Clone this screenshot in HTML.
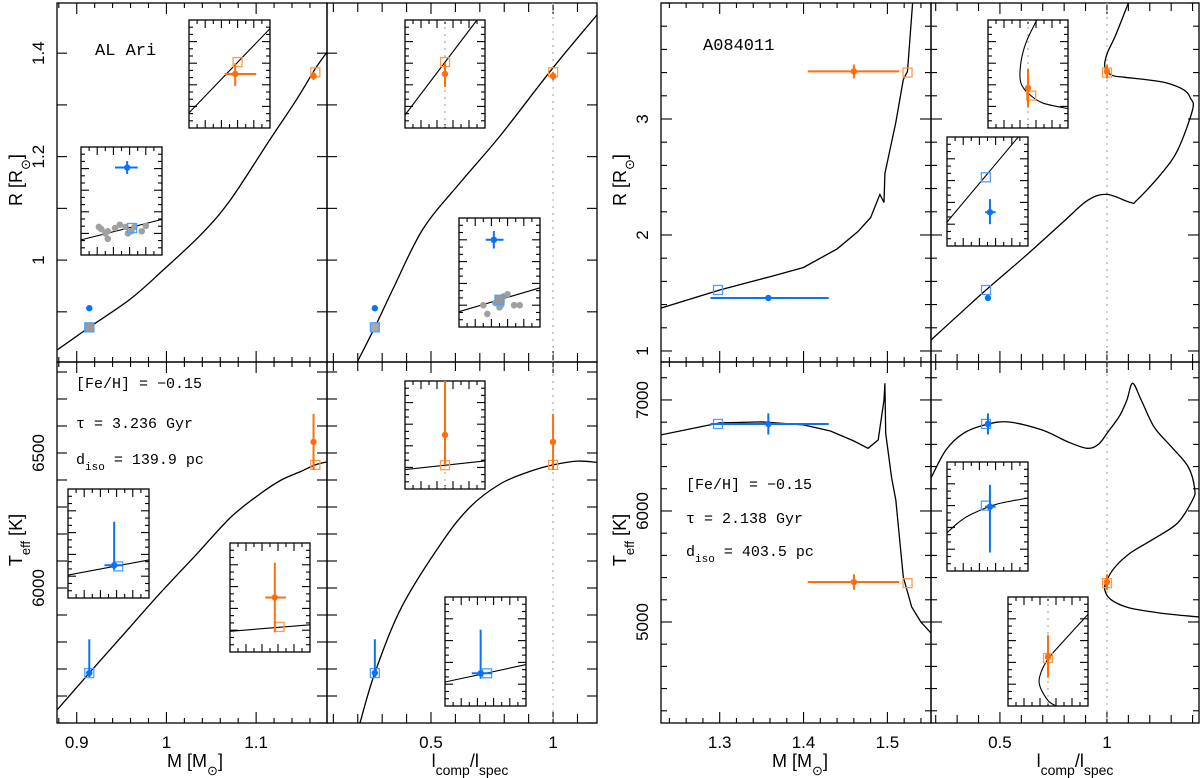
<!DOCTYPE html>
<html><head><meta charset="utf-8"><style>
html,body{margin:0;padding:0;background:#fff}
svg{display:block}
text{font-family:"Liberation Sans",sans-serif;fill:#000}
.mono{font-family:"Liberation Mono",monospace}
</style></head><body>
<svg id="fig" width="1200" height="778" viewBox="0 0 1200 778"></svg>
<script>
// ===== Data =====
// AL Ari isochrone
const alMass=[0.878,0.914,0.96,0.999,1.04,1.072,1.115,1.145,1.166,1.179];
const alRad=[0.826,0.87,0.925,0.985,1.052,1.118,1.232,1.31,1.37,1.402];
const alMassT=[0.878,0.914,0.95,0.993,1.035,1.072,1.105,1.128,1.15,1.166,1.179];
const alTeff=[5548,5685,5820,5981,6130,6263,6350,6400,6432,6456,6467];
const alLumR=[0.2,0.27,0.35,0.467,0.62,0.783,1.0,1.18];
const alRadL=[0.805,0.87,0.95,1.06,1.15,1.24,1.372,1.474];
const alLumT=[0.209,0.27,0.38,0.545,0.66,0.783,0.9,1.0,1.1,1.18];
const alTeffL=[5500,5685,5930,6170,6300,6385,6430,6456,6470,6465];
// AL Ari stars: [primary(orange), secondary(blue)]
const alObsM=[1.164,0.914], alObsMerr=[0.003,0.002];
const alObsR=[1.356,0.907], alObsRerr=[0.008,0.004];
const alObsT=[6541,5685], alObsTup=[104,125], alObsTdn=[104,15];
const alObsL=[1.0,0.27];
const alModM=[1.166,0.914], alModR=[1.363,0.87], alModT=[6456,5685];
// A084011 isochrone
const aMass=[1.230,1.30,1.36,1.40,1.44,1.465,1.48,1.491,1.496,1.497,1.51,1.519,1.524,1.530];
const aRad=[1.37,1.526,1.64,1.72,1.88,2.03,2.15,2.35,2.28,2.53,2.97,3.34,3.41,4.0];
const aMassT=[1.230,1.30,1.35,1.40,1.432,1.46,1.477,1.489,1.496,1.497,1.498,1.505,1.51,1.519,1.529,1.54,1.552];
const aTeff=[6685,6793,6802,6775,6720,6630,6565,6640,7000,7150,6700,6300,6100,5405,5135,5000,4900];
const aLumR=[0.178,0.30,0.435,0.626,0.80,0.911,1.0,1.11,1.14,1.25,1.33,1.40,1.39,1.36,1.28,1.18,1.08,1.02,0.99,1.00,1.04,1.1];
const aRadL=[1.095,1.30,1.526,1.83,2.12,2.30,2.35,2.28,2.30,2.52,2.73,3.08,3.18,3.25,3.31,3.34,3.36,3.38,3.45,3.56,3.72,4.0];
const aLumT=[0.178,0.248,0.33,0.43,0.537,0.696,0.82,0.907,0.96,1.005,1.06,1.093,1.12,1.16,1.22,1.30,1.38,1.41,1.40,1.33,1.22,1.11,1.04,1.0,0.99,1.02,1.10,1.25,1.43];
const aTeffL=[6297,6550,6700,6775,6802,6730,6620,6565,6600,6712,6860,7000,7150,7000,6757,6580,6396,6200,6100,5892,5750,5622,5500,5378,5288,5200,5130,5080,5045];
const aObsM=[1.460,1.358], aObsMlo=[1.405,1.289], aObsMhi=[1.514,1.430];
const aObsR=[3.41,1.457], aObsRerr=[0.06,0.02];
const aObsT=[5360,6784], aObsTerr=[70,95];
const aObsL=[1.0,0.444];
const aModM=[1.524,1.298], aModR=[3.40,1.526], aModT=[5350,6784], aModL=[1.0,0.435];
// Insets (normalised inset coordinates u,v in [0,1])
const in1LineU=[0,1], in1LineV=[0.14,0.92];
const in2LineU=[0,1], in2LineV=[0.14,0.33];
const in2GrayU=[0.22,0.25,0.3,0.33,0.42,0.48,0.55,0.58,0.62,0.66,0.75,0.8,0.33];
const in2GrayV=[0.26,0.24,0.2,0.22,0.25,0.28,0.26,0.2,0.22,0.26,0.22,0.27,0.15];
const in4GrayU=[0.3,0.35,0.45,0.5,0.52,0.55,0.6,0.68,0.75,0.5];
const in4GrayV=[0.2,0.12,0.22,0.25,0.2,0.28,0.3,0.2,0.2,0.18];
const trCurveU=[0.61,0.48,0.41,0.41,0.52,0.69,1.0];
const trCurveV=[1.0,0.8,0.6,0.42,0.31,0.23,0.18];
const brCurveU=[0,0.15,0.3,0.6,1];
const brCurveV=[0.35,0.45,0.52,0.61,0.67];
const br2CurveU=[1,0.7,0.5,0.4,0.4,0.5,0.6];
const br2CurveV=[0.84,0.6,0.43,0.28,0.18,0.05,0];

// ===== Drawing =====
const NS="http://www.w3.org/2000/svg";
const svg=document.getElementById('fig');
const ORANGE="#ff6e0a", BLUE="#0a72f5", LORANGE="#ff9a4a", LBLUE="#4aa0ff";
function el(tag,attrs,parent){const e=document.createElementNS(NS,tag);for(const k in attrs)e.setAttribute(k,attrs[k]);(parent||svg).appendChild(e);return e;}
function scale(d0,d1,p0,p1){return v=>p0+(v-d0)/(d1-d0)*(p1-p0);}
function polyline(xs,ys,sx,sy,attrs){
  const pts=xs.map((x,i)=>sx(x).toFixed(1)+","+sy(ys[i]).toFixed(1)).join(" ");
  return el('polyline',Object.assign({points:pts,fill:'none'},attrs));
}
function smooth(xs,ys,sx,sy,attrs){
  const P=xs.map((x,i)=>[sx(x),sy(ys[i])]);
  let d="M"+P[0][0].toFixed(1)+","+P[0][1].toFixed(1);
  for(let i=0;i<P.length-1;i++){
    const p0=P[Math.max(0,i-1)],p1=P[i],p2=P[i+1],p3=P[Math.min(P.length-1,i+2)];
    const c1=[p1[0]+(p2[0]-p0[0])/6,p1[1]+(p2[1]-p0[1])/6];
    const c2=[p2[0]-(p3[0]-p1[0])/6,p2[1]-(p3[1]-p1[1])/6];
    d+=` C${c1[0].toFixed(1)},${c1[1].toFixed(1)} ${c2[0].toFixed(1)},${c2[1].toFixed(1)} ${p2[0].toFixed(1)},${p2[1].toFixed(1)}`;
  }
  return el('path',Object.assign({d:d,fill:'none'},attrs));
}
function frame(x0,y0,x1,y1,xt,yt,name){
  const g=el('g',{});
  
  
  el('rect',{x:x0,y:y0,width:x1-x0,height:y1-y0,fill:'none',stroke:'#000','stroke-width':1.3},g);
  xt.forEach(t=>{el('line',{x1:t[0],y1:y1,x2:t[0],y2:y1-t[1],stroke:'#000','stroke-width':1.1},g);el('line',{x1:t[0],y1:y0,x2:t[0],y2:y0+t[1],stroke:'#000','stroke-width':1.1},g);});
  yt.forEach(t=>{el('line',{x1:x0,y1:t[0],x2:x0+t[1],y2:t[0],stroke:'#000','stroke-width':1.1},g);el('line',{x1:x1,y1:t[0],x2:x1-t[1],y2:t[0],stroke:'#000','stroke-width':1.1},g);});
  return g;
}
function ticks(d0,d1,step,major,sc,lenMaj,lenMin){
  const out=[];const n0=Math.ceil(d0/step-1e-6),n1=Math.floor(d1/step+1e-6);
  for(let n=n0;n<=n1;n++){const v=n*step;const m=Math.abs(v/major-Math.round(v/major))<1e-6;out.push([sc(v),m?lenMaj:lenMin]);}
  return out;
}
function errpt(sx,sy,x,y,xlo,xhi,ylo,yhi,color,name){
  const g=el('g',{});
  
  
  el('line',{x1:sx(xlo),y1:sy(y),x2:sx(xhi),y2:sy(y),stroke:color,'stroke-width':2},g);
  el('line',{x1:sx(x),y1:sy(ylo),x2:sx(x),y2:sy(yhi),stroke:color,'stroke-width':2},g);
  el('circle',{cx:sx(x),cy:sy(y),r:3.2,fill:color},g);
}
function sq(sx,sy,x,y,color,name,fill){
  const e=el('rect',{x:sx(x)-4.5,y:sy(y)-4.5,width:9,height:9,fill:fill||'none',stroke:color,'stroke-width':1.3});
  
  
}
function vdot(sx,y0,y1,v,name){
  const e=el('line',{x1:sx(v),y1:y0,x2:sx(v),y2:y1,stroke:'#aaa','stroke-width':1.2,'stroke-dasharray':'2,5'});
  
  
}
function text(x,y,s,attrs,name){
  const e=el('text',Object.assign({x:x,y:y},attrs||{}));e.innerHTML=s;
  
  
  return e;
}
function ytext(x,y,s,name,size){
  return text(x,y,s,{transform:`rotate(-90 ${x} ${y})`,'text-anchor':'middle','font-size':size||17},name);
}
function inset(x0,y0,x1,y1,name){
  const xt=[],yt=[];
  for(let i=1;i<10;i++)xt.push([x0+(x1-x0)*i/10,i%2==0?8:4]);
  for(let i=1;i<15;i++)yt.push([y0+(y1-y0)*i/15,i%3==0?8:4]);
  el('rect',{x:x0,y:y0,width:x1-x0,height:y1-y0,fill:'#fff'});
  frame(x0,y0,x1,y1,xt,yt,name);
  return {su:scale(0,1,x0,x1),sv:scale(0,1,y1,y0)};
}
const LS={stroke:'#000','stroke-width':1.3,'clip-path':'url(#c0)'};

const cpath=el('clipPath',{id:'c0'});
el('rect',{x:57,y:3,width:540,height:720},cpath);
el('rect',{x:661,y:3,width:538,height:720},cpath);

// ---------- Left figure ----------
const LX0=57,LX1=327,LX2=597,Y0=3,YM=362,Y1=723;
const sxM=scale(0.878,1.179,LX0,LX1), syR=scale(0.803,1.497,YM,Y0);
const sxL=scale(0.074,1.18,LX1,LX2), syT=scale(5500,6837,Y1,YM);
frame(LX0,Y0,LX1,YM,ticks(0.878,1.179,0.02,0.1,sxM,11,5),ticks(0.803,1.497,0.1,0.1,syR,10,5),'al-ari-radius-mass-panel');
frame(LX1,Y0,LX2,YM,ticks(0.074,1.18,0.1,0.5,sxL,11,9),ticks(0.803,1.497,0.1,0.1,syR,10,5),'al-ari-radius-lum-panel');
frame(LX0,YM,LX1,Y1,ticks(0.878,1.179,0.02,0.1,sxM,11,5),ticks(5500,6837,100,100,syT,10,5),'al-ari-teff-mass-panel');
frame(LX1,YM,LX2,Y1,ticks(0.074,1.18,0.1,0.5,sxL,11,9),ticks(5500,6837,100,100,syT,10,5),'al-ari-teff-lum-panel');
vdot(sxL,Y0,Y1,1.0,'al-ari-unity-line');
let c;
c=smooth(alMass,alRad,sxM,syR,LS);


c=smooth(alLumR,alRadL,sxL,syR,LS);


c=smooth(alMassT,alTeff,sxM,syT,LS);


c=smooth(alLumT,alTeffL,sxL,syT,LS);


const cols=[ORANGE,BLUE],lcols=[LORANGE,LBLUE],nm=['primary','secondary'];
for(let i=0;i<2;i++){
  sq(sxM,syR,alModM[i],alModR[i],lcols[i],'al-ari-model-rm-'+nm[i],i==1?'#999':'none');
  errpt(sxM,syR,alObsM[i],alObsR[i],alObsM[i]-alObsMerr[i],alObsM[i]+alObsMerr[i],alObsR[i]-alObsRerr[i],alObsR[i]+alObsRerr[i],cols[i],'al-ari-obs-rm-'+nm[i]);
  sq(sxL,syR,alObsL[i],alModR[i],lcols[i],'al-ari-model-rl-'+nm[i],i==1?'#aaa':'none');
  errpt(sxL,syR,alObsL[i],alObsR[i],alObsL[i],alObsL[i],alObsR[i]-alObsRerr[i],alObsR[i]+alObsRerr[i],cols[i],'al-ari-obs-rl-'+nm[i]);
  sq(sxM,syT,alModM[i],alModT[i],lcols[i],'al-ari-model-tm-'+nm[i]);
  errpt(sxM,syT,alObsM[i],alObsT[i],alObsM[i]-alObsMerr[i],alObsM[i]+alObsMerr[i],alObsT[i]-alObsTdn[i],alObsT[i]+alObsTup[i],cols[i],'al-ari-obs-tm-'+nm[i]);
  sq(sxL,syT,alObsL[i],alModT[i],lcols[i],'al-ari-model-tl-'+nm[i]);
  errpt(sxL,syT,alObsL[i],alObsT[i],alObsL[i],alObsL[i],alObsT[i]-alObsTdn[i],alObsT[i]+alObsTup[i],cols[i],'al-ari-obs-tl-'+nm[i]);
}
let s;
s=inset(189,20,270,128,'inset-rm-primary');
polyline(in1LineU,in1LineV,s.su,s.sv,{stroke:'#000','stroke-width':1.1});
sq(s.su,s.sv,0.60,0.61,LORANGE,'inset-model-square');
errpt(s.su,s.sv,0.57,0.5,0.44,0.83,0.39,0.6,ORANGE,'inset-obs-point');
s=inset(81,147,162,255,'inset-rm-secondary');
polyline(in2LineU,in2LineV,s.su,s.sv,{stroke:'#000','stroke-width':1.1});
in2GrayU.forEach((u,i)=>{const e=el('circle',{cx:s.su(u),cy:s.sv(in2GrayV[i]),r:3.3,fill:'#a0a0a0'});});
sq(s.su,s.sv,0.63,0.25,LBLUE,'inset-model-square');
errpt(s.su,s.sv,0.57,0.81,0.42,0.70,0.75,0.87,BLUE,'inset-obs-point');
s=inset(405,20,485,128,'inset-rl-primary');
vdot(s.su,20,128,0.5,'inset-unity-line');
polyline([0,0.9],[0.12,1.0],s.su,s.sv,{stroke:'#000','stroke-width':1.1});
sq(s.su,s.sv,0.5,0.61,LORANGE,'inset-model-square');
errpt(s.su,s.sv,0.5,0.5,0.5,0.5,0.38,0.6,ORANGE,'inset-obs-point');
s=inset(459,218,540,327,'inset-rl-secondary');
polyline([0,1],[0.14,0.36],s.su,s.sv,{stroke:'#000','stroke-width':1.1});
in4GrayU.forEach((u,i)=>{const e=el('circle',{cx:s.su(u),cy:s.sv(in4GrayV[i]),r:3.3,fill:'#a0a0a0'});});
sq(s.su,s.sv,0.5,0.25,LBLUE,'inset-model-square','#999');
errpt(s.su,s.sv,0.43,0.80,0.33,0.55,0.72,0.88,BLUE,'inset-obs-point');
s=inset(68,489,149,598,'inset-tm-secondary');
polyline([0,1],[0.21,0.35],s.su,s.sv,{stroke:'#000','stroke-width':1.1});
sq(s.su,s.sv,0.62,0.29,LBLUE,'inset-model-square');
errpt(s.su,s.sv,0.57,0.30,0.45,0.68,0.26,0.70,BLUE,'inset-obs-point');
s=inset(230,543,310,652,'inset-tm-primary');
polyline([0,1],[0.19,0.25],s.su,s.sv,{stroke:'#000','stroke-width':1.1});
sq(s.su,s.sv,0.62,0.23,LORANGE,'inset-model-square');
errpt(s.su,s.sv,0.56,0.5,0.44,0.70,0.18,0.82,ORANGE,'inset-obs-point');
s=inset(405,381,485,489,'inset-tl-primary');
vdot(s.su,381,489,0.5,'inset-unity-line');
polyline([0,1],[0.18,0.26],s.su,s.sv,{stroke:'#000','stroke-width':1.1});
sq(s.su,s.sv,0.5,0.22,LORANGE,'inset-model-square');
errpt(s.su,s.sv,0.5,0.5,0.5,0.5,0.22,1.0,ORANGE,'inset-obs-point');
s=inset(445,597,526,706,'inset-tl-secondary');
polyline([0,1],[0.22,0.38],s.su,s.sv,{stroke:'#000','stroke-width':1.1});
sq(s.su,s.sv,0.52,0.30,LBLUE,'inset-model-square');
errpt(s.su,s.sv,0.44,0.30,0.33,0.58,0.25,0.70,BLUE,'inset-obs-point');

// ---------- Right figure ----------
const RX0=661,RX1=931,RX2=1199;
const sxM2=scale(1.230,1.552,RX0,RX1), syR2=scale(0.905,4.0,YM,Y0);
const sxL2=scale(0.178,1.43,RX1,RX2), syT2=scale(4090,7342,Y1,YM);
frame(RX0,Y0,RX1,YM,ticks(1.230,1.552,0.02,0.1,sxM2,11,5),ticks(0.905,4.0,0.2,1,syR2,11,6),'a084011-radius-mass-panel');
frame(RX1,Y0,RX2,YM,ticks(0.178,1.43,0.1,0.5,sxL2,11,8),ticks(0.905,4.0,0.2,1,syR2,11,6),'a084011-radius-lum-panel');
frame(RX0,YM,RX1,Y1,ticks(1.230,1.552,0.02,0.1,sxM2,11,5),ticks(4090,7342,200,1000,syT2,11,6),'a084011-teff-mass-panel');
frame(RX1,YM,RX2,Y1,ticks(0.178,1.43,0.1,0.5,sxL2,11,8),ticks(4090,7342,200,1000,syT2,11,6),'a084011-teff-lum-panel');
vdot(sxL2,Y0,Y1,1.0,'a084011-unity-line');
c=polyline(aMass,aRad,sxM2,syR2,LS);


c=smooth(aLumR,aRadL,sxL2,syR2,LS);


c=polyline(aMassT,aTeff,sxM2,syT2,LS);


c=smooth(aLumT,aTeffL,sxL2,syT2,LS);


for(let i=0;i<2;i++){
  sq(sxM2,syR2,aModM[i],aModR[i],lcols[i],'a084011-model-rm-'+nm[i]);
  errpt(sxM2,syR2,aObsM[i],aObsR[i],aObsMlo[i],aObsMhi[i],aObsR[i]-aObsRerr[i],aObsR[i]+aObsRerr[i],cols[i],'a084011-obs-rm-'+nm[i]);
  sq(sxL2,syR2,aModL[i],aModR[i],lcols[i],'a084011-model-rl-'+nm[i]);
  errpt(sxL2,syR2,aObsL[i],aObsR[i],aObsL[i],aObsL[i],aObsR[i]-aObsRerr[i],aObsR[i]+aObsRerr[i],cols[i],'a084011-obs-rl-'+nm[i]);
  sq(sxM2,syT2,aModM[i],aModT[i],lcols[i],'a084011-model-tm-'+nm[i]);
  errpt(sxM2,syT2,aObsM[i],aObsT[i],aObsMlo[i],aObsMhi[i],aObsT[i]-aObsTerr[i],aObsT[i]+aObsTerr[i],cols[i],'a084011-obs-tm-'+nm[i]);
  sq(sxL2,syT2,aModL[i],aModT[i],lcols[i],'a084011-model-tl-'+nm[i]);
  errpt(sxL2,syT2,aObsL[i],aObsT[i],aObsL[i],aObsL[i],aObsT[i]-aObsTerr[i],aObsT[i]+aObsTerr[i],cols[i],'a084011-obs-tl-'+nm[i]);
}
s=inset(988,20,1068,128,'inset-a-rl-primary');
vdot(s.su,20,128,0.5,'inset-unity-line');
smooth(trCurveU,trCurveV,s.su,s.sv,{stroke:'#000','stroke-width':1.1});
sq(s.su,s.sv,0.54,0.30,LORANGE,'inset-model-square');
errpt(s.su,s.sv,0.5,0.37,0.5,0.5,0.19,0.55,ORANGE,'inset-obs-point');
s=inset(947,137,1028,246,'inset-a-rl-secondary');
polyline([0,0.88],[0.22,1.0],s.su,s.sv,{stroke:'#000','stroke-width':1.1});
sq(s.su,s.sv,0.48,0.63,LBLUE,'inset-model-square');
errpt(s.su,s.sv,0.53,0.31,0.47,0.6,0.2,0.43,BLUE,'inset-obs-point');
s=inset(947,462,1028,571,'inset-a-tl-secondary');
smooth(brCurveU,brCurveV,s.su,s.sv,{stroke:'#000','stroke-width':1.1});
sq(s.su,s.sv,0.48,0.60,LBLUE,'inset-model-square');
errpt(s.su,s.sv,0.53,0.59,0.47,0.6,0.17,0.79,BLUE,'inset-obs-point');
s=inset(1008,597,1088,706,'inset-a-tl-primary');
vdot(s.su,597,706,0.5,'inset-unity-line');
smooth(br2CurveU,br2CurveV,s.su,s.sv,{stroke:'#000','stroke-width':1.1});
sq(s.su,s.sv,0.5,0.44,LORANGE,'inset-model-square');
errpt(s.su,s.sv,0.5,0.45,0.5,0.5,0.26,0.65,ORANGE,'inset-obs-point');

// ---------- Tick labels ----------
const lmLabels=[0.9,1,1.1], llLabels=[0.5,1], rmLabels=[1.3,1.4,1.5], rlLabels=[0.5,1];
const lrLabels=[1.4,1.2,1], ltLabels=[6500,6000], rrLabels=[3,2,1], rtLabels=[7000,6000,5000];
lmLabels.forEach(v=>text(sxM(v),748,String(v),{'text-anchor':'middle','font-size':17},'x-tick-label'));
llLabels.forEach(v=>text(sxL(v),748,String(v),{'text-anchor':'middle','font-size':17},'x-tick-label'));
rmLabels.forEach(v=>text(sxM2(v),748,String(v),{'text-anchor':'middle','font-size':17},'x-tick-label'));
rlLabels.forEach(v=>text(sxL2(v),748,String(v),{'text-anchor':'middle','font-size':17},'x-tick-label'));
lrLabels.forEach(v=>ytext(44,syR(v),String(v),'y-tick-label'));
ltLabels.forEach(v=>ytext(44,syT(v),String(v),'y-tick-label'));
rrLabels.forEach(v=>ytext(648,syR2(v),String(v),'y-tick-label'));
rtLabels.forEach(v=>ytext(648,syT2(v),String(v),'y-tick-label'));

// ---------- Axis titles ----------
ytext(22,180,'R [R<tspan baseline-shift="sub" font-size="13">⊙</tspan>]','y-axis-title-radius',18);
ytext(22,540,'T<tspan baseline-shift="sub" font-size="13">eff</tspan> [K]','y-axis-title-teff',18);
ytext(626,180,'R [R<tspan baseline-shift="sub" font-size="13">⊙</tspan>]','y-axis-title-radius-right',18);
ytext(626,540,'T<tspan baseline-shift="sub" font-size="13">eff</tspan> [K]','y-axis-title-teff-right',18);
text(195,767,'M [M<tspan baseline-shift="sub" font-size="13">⊙</tspan>]',{'text-anchor':'middle','font-size':18},'x-axis-title-mass');
text(800,767,'M [M<tspan baseline-shift="sub" font-size="13">⊙</tspan>]',{'text-anchor':'middle','font-size':18},'x-axis-title-mass-right');
text(470,767,'l<tspan baseline-shift="sub" font-size="14">comp</tspan>/l<tspan baseline-shift="sub" font-size="14">spec</tspan>',{'text-anchor':'middle','font-size':18},'x-axis-title-lum-ratio');
text(1075,767,'l<tspan baseline-shift="sub" font-size="14">comp</tspan>/l<tspan baseline-shift="sub" font-size="14">spec</tspan>',{'text-anchor':'middle','font-size':18},'x-axis-title-lum-ratio-right');

// ---------- Annotations ----------
text(95,55,'AL Ari',{'font-size':17,class:'mono'},'system-name-al-ari');
text(703,50,'A084011',{'font-size':17,class:'mono'},'system-name-a084011');
text(76,388,'[Fe/H] = −0.15',{'font-size':15,class:'mono'},'metallicity-label');
text(76,428,'τ = 3.236 Gyr',{'font-size':15,class:'mono'},'age-label');
text(76,464,'d<tspan baseline-shift="sub" font-size="11">iso</tspan> = 139.9 pc',{'font-size':15,class:'mono'},'distance-label');
text(686,489,'[Fe/H] = −0.15',{'font-size':15,class:'mono'},'metallicity-label-right');
text(686,523,'τ = 2.138 Gyr',{'font-size':15,class:'mono'},'age-label-right');
text(686,556,'d<tspan baseline-shift="sub" font-size="11">iso</tspan> = 403.5 pc',{'font-size':15,class:'mono'},'distance-label-right');
</script>
</body></html>
